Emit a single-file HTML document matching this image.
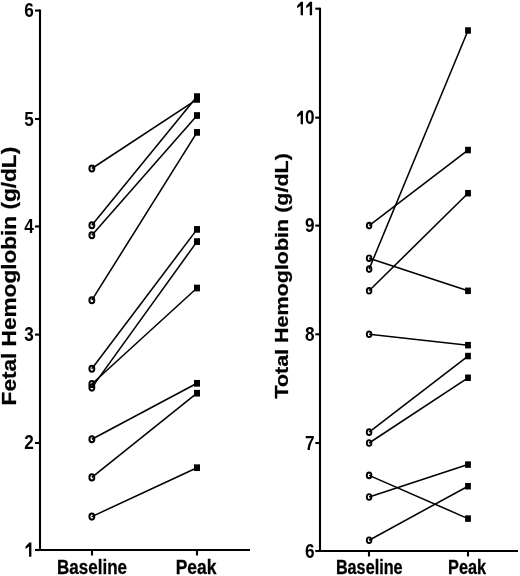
<!DOCTYPE html><html><head><meta charset="utf-8"><style>html,body{margin:0;padding:0;background:#fff;}svg{display:block;will-change:transform;}text{font-family:"Liberation Sans",sans-serif;font-weight:bold;fill:#000;}</style></head><body>
<svg width="520" height="576" viewBox="0 0 520 576">
<rect width="520" height="576" fill="#fff"/>
<line x1="40" y1="9.5" x2="40" y2="551.05" stroke="#000" stroke-width="2.1"/>
<line x1="38.95" y1="550" x2="250" y2="550" stroke="#000" stroke-width="2.1"/>
<line x1="35" y1="550" x2="40" y2="550" stroke="#000" stroke-width="2.1"/>
<line x1="35" y1="442.95" x2="40" y2="442.95" stroke="#000" stroke-width="2.1"/>
<line x1="35" y1="334.6" x2="40" y2="334.6" stroke="#000" stroke-width="2.1"/>
<line x1="35" y1="226.45" x2="40" y2="226.45" stroke="#000" stroke-width="2.1"/>
<line x1="35" y1="119" x2="40" y2="119" stroke="#000" stroke-width="2.1"/>
<line x1="35" y1="10.55" x2="40" y2="10.55" stroke="#000" stroke-width="2.1"/>
<line x1="92" y1="550" x2="92" y2="555.5" stroke="#000" stroke-width="2.1"/>
<line x1="197" y1="550" x2="197" y2="555.5" stroke="#000" stroke-width="2.1"/>
<path d="M31.4,542.4V556.8H29.05V546.4L25.55,548.9V546.4L29.35,542.4Z" fill="#000"/>
<text transform="translate(33.8,449.45) scale(0.86,1)" text-anchor="end" font-size="20.0">2</text>
<text transform="translate(33.8,341.1) scale(0.86,1)" text-anchor="end" font-size="20.0">3</text>
<text transform="translate(33.8,232.95) scale(0.86,1)" text-anchor="end" font-size="20.0">4</text>
<text transform="translate(33.8,125.5) scale(0.86,1)" text-anchor="end" font-size="20.0">5</text>
<text transform="translate(33.8,17.05) scale(0.86,1)" text-anchor="end" font-size="20.0">6</text>
<text x="57.1" y="573.5" stroke="#000" stroke-width="0.3" font-size="20.0" textLength="69.9" lengthAdjust="spacingAndGlyphs">Baseline</text>
<text x="175.7" y="573.5" stroke="#000" stroke-width="0.3" font-size="20.0" textLength="40.7" lengthAdjust="spacingAndGlyphs">Peak</text>
<text transform="translate(15.8,405.4) rotate(-90)" x="0" y="0" stroke="#000" stroke-width="0.25" font-size="19.7" textLength="258.6" lengthAdjust="spacingAndGlyphs">Fetal Hemoglobin (g/dL)</text>
<line x1="91.85" y1="168.5" x2="197" y2="99.4" stroke="#000" stroke-width="1.55"/>
<line x1="91.85" y1="225.3" x2="197" y2="96.6" stroke="#000" stroke-width="1.55"/>
<line x1="91.85" y1="235.3" x2="197" y2="115.5" stroke="#000" stroke-width="1.55"/>
<line x1="91.85" y1="300.2" x2="197" y2="132.4" stroke="#000" stroke-width="1.55"/>
<line x1="91.85" y1="368.7" x2="197" y2="229.4" stroke="#000" stroke-width="1.55"/>
<line x1="91.85" y1="384" x2="197" y2="288" stroke="#000" stroke-width="1.55"/>
<line x1="91.85" y1="387.6" x2="197" y2="241.6" stroke="#000" stroke-width="1.55"/>
<line x1="91.85" y1="439.3" x2="197" y2="383.3" stroke="#000" stroke-width="1.55"/>
<line x1="91.85" y1="477.4" x2="197" y2="393.2" stroke="#000" stroke-width="1.55"/>
<line x1="91.85" y1="516.6" x2="197" y2="467.7" stroke="#000" stroke-width="1.55"/>
<ellipse cx="91.85" cy="168.5" rx="2.45" ry="3.05" fill="none" stroke="#000" stroke-width="2.0"/>
<ellipse cx="91.85" cy="225.3" rx="2.45" ry="3.05" fill="none" stroke="#000" stroke-width="2.0"/>
<ellipse cx="91.85" cy="235.3" rx="2.45" ry="3.05" fill="none" stroke="#000" stroke-width="2.0"/>
<ellipse cx="91.85" cy="300.2" rx="2.45" ry="3.05" fill="none" stroke="#000" stroke-width="2.0"/>
<ellipse cx="91.85" cy="368.7" rx="2.45" ry="3.05" fill="none" stroke="#000" stroke-width="2.0"/>
<ellipse cx="91.85" cy="384" rx="2.45" ry="3.05" fill="none" stroke="#000" stroke-width="2.0"/>
<ellipse cx="91.85" cy="387.6" rx="2.45" ry="3.05" fill="none" stroke="#000" stroke-width="2.0"/>
<ellipse cx="91.85" cy="439.3" rx="2.45" ry="3.05" fill="none" stroke="#000" stroke-width="2.0"/>
<ellipse cx="91.85" cy="477.4" rx="2.45" ry="3.05" fill="none" stroke="#000" stroke-width="2.0"/>
<ellipse cx="91.85" cy="516.6" rx="2.45" ry="3.05" fill="none" stroke="#000" stroke-width="2.0"/>
<rect x="194" y="93.25" width="6.0" height="6.7" fill="#000"/>
<rect x="194" y="96.05" width="6.0" height="6.7" fill="#000"/>
<rect x="194" y="112.15" width="6.0" height="6.7" fill="#000"/>
<rect x="194" y="129.05" width="6.0" height="6.7" fill="#000"/>
<rect x="194" y="226.05" width="6.0" height="6.7" fill="#000"/>
<rect x="194" y="238.25" width="6.0" height="6.7" fill="#000"/>
<rect x="194" y="284.65" width="6.0" height="6.7" fill="#000"/>
<rect x="194" y="379.95" width="6.0" height="6.7" fill="#000"/>
<rect x="194" y="389.85" width="6.0" height="6.7" fill="#000"/>
<rect x="194" y="464.35" width="6.0" height="6.7" fill="#000"/>
<line x1="320" y1="7.65" x2="320" y2="552.05" stroke="#000" stroke-width="2.1"/>
<line x1="318.95" y1="551" x2="518" y2="551" stroke="#000" stroke-width="2.1"/>
<line x1="315.3" y1="551" x2="320" y2="551" stroke="#000" stroke-width="2.1"/>
<line x1="315.3" y1="443" x2="320" y2="443" stroke="#000" stroke-width="2.1"/>
<line x1="315.3" y1="334.3" x2="320" y2="334.3" stroke="#000" stroke-width="2.1"/>
<line x1="315.3" y1="225.6" x2="320" y2="225.6" stroke="#000" stroke-width="2.1"/>
<line x1="315.3" y1="117.65" x2="320" y2="117.65" stroke="#000" stroke-width="2.1"/>
<line x1="315.3" y1="8.7" x2="320" y2="8.7" stroke="#000" stroke-width="2.1"/>
<line x1="369" y1="551" x2="369" y2="556.5" stroke="#000" stroke-width="2.1"/>
<line x1="468" y1="551" x2="468" y2="556.5" stroke="#000" stroke-width="2.1"/>
<text transform="translate(314.6,557.5) scale(0.86,1)" text-anchor="end" font-size="20.0">6</text>
<text transform="translate(314.6,449.5) scale(0.86,1)" text-anchor="end" font-size="20.0">7</text>
<text transform="translate(314.6,340.8) scale(0.86,1)" text-anchor="end" font-size="20.0">8</text>
<text transform="translate(314.6,232.1) scale(0.86,1)" text-anchor="end" font-size="20.0">9</text>
<path d="M303,110.65V124.15H300.65V114.65L297.15,117.15V114.65L300.95,110.65Z" fill="#000"/>
<text transform="translate(314.6,124.15) scale(0.86,1)" text-anchor="end" font-size="20.0">0</text>
<path d="M303,1.7V15.2H300.65V5.7L297.15,8.2V5.7L300.95,1.7Z" fill="#000"/>
<path d="M312.1,1.7V15.2H309.75V5.7L306.25,8.2V5.7L310.05,1.7Z" fill="#000"/>
<text x="335.9" y="573.5" stroke="#000" stroke-width="0.3" font-size="20.0" textLength="66.7" lengthAdjust="spacingAndGlyphs">Baseline</text>
<text x="448" y="573.5" stroke="#000" stroke-width="0.3" font-size="20.0" textLength="38.1" lengthAdjust="spacingAndGlyphs">Peak</text>
<text transform="translate(287.8,398.6) rotate(-90)" x="0" y="0" stroke="#000" stroke-width="0.25" font-size="18.6" textLength="245.4" lengthAdjust="spacingAndGlyphs">Total Hemoglobin (g/dL)</text>
<line x1="369.1" y1="225.6" x2="468" y2="150.04" stroke="#000" stroke-width="1.55"/>
<line x1="369.1" y1="258.21" x2="468" y2="290.82" stroke="#000" stroke-width="1.55"/>
<line x1="369.1" y1="269.08" x2="468" y2="30.49" stroke="#000" stroke-width="1.55"/>
<line x1="369.1" y1="290.82" x2="468" y2="193.21" stroke="#000" stroke-width="1.55"/>
<line x1="369.1" y1="334.3" x2="468" y2="345.17" stroke="#000" stroke-width="1.55"/>
<line x1="369.1" y1="432.13" x2="468" y2="356.04" stroke="#000" stroke-width="1.55"/>
<line x1="369.1" y1="443" x2="468" y2="377.78" stroke="#000" stroke-width="1.55"/>
<line x1="369.1" y1="475.4" x2="468" y2="518.6" stroke="#000" stroke-width="1.55"/>
<line x1="369.1" y1="497" x2="468" y2="464.6" stroke="#000" stroke-width="1.55"/>
<line x1="369.1" y1="540.2" x2="468" y2="486.2" stroke="#000" stroke-width="1.55"/>
<ellipse cx="369.1" cy="225.6" rx="2.3" ry="2.85" fill="none" stroke="#000" stroke-width="1.9"/>
<ellipse cx="369.1" cy="258.21" rx="2.3" ry="2.85" fill="none" stroke="#000" stroke-width="1.9"/>
<ellipse cx="369.1" cy="269.08" rx="2.3" ry="2.85" fill="none" stroke="#000" stroke-width="1.9"/>
<ellipse cx="369.1" cy="290.82" rx="2.3" ry="2.85" fill="none" stroke="#000" stroke-width="1.9"/>
<ellipse cx="369.1" cy="334.3" rx="2.3" ry="2.85" fill="none" stroke="#000" stroke-width="1.9"/>
<ellipse cx="369.1" cy="432.13" rx="2.3" ry="2.85" fill="none" stroke="#000" stroke-width="1.9"/>
<ellipse cx="369.1" cy="443" rx="2.3" ry="2.85" fill="none" stroke="#000" stroke-width="1.9"/>
<ellipse cx="369.1" cy="475.4" rx="2.3" ry="2.85" fill="none" stroke="#000" stroke-width="1.9"/>
<ellipse cx="369.1" cy="497" rx="2.3" ry="2.85" fill="none" stroke="#000" stroke-width="1.9"/>
<ellipse cx="369.1" cy="540.2" rx="2.3" ry="2.85" fill="none" stroke="#000" stroke-width="1.9"/>
<rect x="465.1" y="27.24" width="5.8" height="6.5" fill="#000"/>
<rect x="465.1" y="146.79" width="5.8" height="6.5" fill="#000"/>
<rect x="465.1" y="189.96" width="5.8" height="6.5" fill="#000"/>
<rect x="465.1" y="287.57" width="5.8" height="6.5" fill="#000"/>
<rect x="465.1" y="341.92" width="5.8" height="6.5" fill="#000"/>
<rect x="465.1" y="352.79" width="5.8" height="6.5" fill="#000"/>
<rect x="465.1" y="374.53" width="5.8" height="6.5" fill="#000"/>
<rect x="465.1" y="461.35" width="5.8" height="6.5" fill="#000"/>
<rect x="465.1" y="482.95" width="5.8" height="6.5" fill="#000"/>
<rect x="465.1" y="515.35" width="5.8" height="6.5" fill="#000"/>
</svg></body></html>
